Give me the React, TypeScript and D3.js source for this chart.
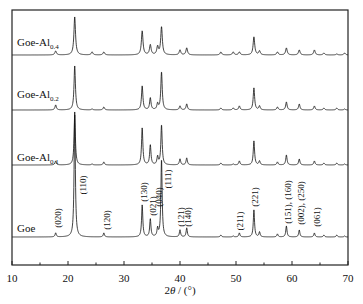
import React from "react";
import { scaleLinear, line, range } from "d3";

// peak positions (2θ, degrees) shared by all four patterns
const peakPos = [17.8, 21.2, 24.3, 26.4, 33.25, 34.7, 36.0, 36.7, 40.0, 41.2, 47.3, 49.5, 50.6, 53.2, 54.2, 57.4, 59.0, 61.3, 64.0, 65.7, 68.0, 69.4];

// peak heights (arbitrary units)
const goe = [4, 125, 0, 4, 32, 18, 8, 78, 7, 9, 2, 1, 4, 27, 5, 3, 11, 7, 4, 2, 2, 1];
const goeAl01 = [4, 50, 1, 3, 37, 20, 8, 40, 6, 7, 2, 1, 4, 24, 4, 3, 10, 6, 4, 2, 2, 1];
const goeAl02 = [5, 44, 1, 3, 24, 12, 6, 38, 4, 6, 2, 2, 4, 22, 4, 3, 8, 6, 4, 2, 2, 1];
const goeAl04 = [4, 38, 3, 3, 24, 10, 8, 28, 5, 7, 3, 3, 3, 18, 4, 3, 7, 5, 5, 2, 1, 2];

const seriesNames = ["Goe", "Goe-Al", "Goe-Al", "Goe-Al"];
const seriesSubs = ["", "0.1", "0.2", "0.4"];
const seriesOffsets = [28, 100, 155, 210];
const seriesData = [goe, goeAl01, goeAl02, goeAl04];
const seriesWidths = [0.13, 0.14, 0.15, 0.17];
const labelLift = [5, 4, 12, 9];

// hkl labels for the Goe pattern
const hklText = ["(020)", "(110)", "(120)", "(130)", "(021)", "(040)", "(111)", "(121)", "(140)", "(211)", "(221)", "(151), (160)", "(002), (250)", "(061)"];
const hklPos = [18.04, 22.59, 26.88, 33.48, 35.0, 36.16, 37.68, 40.0, 41.34, 50.71, 53.39, 59.2, 61.43, 64.29];
const hklLevel = [218, 185, 220, 192, 206, 197, 179, 217, 217, 221, 197, 202, 203, 217];

const xTicks = [10, 20, 30, 40, 50, 60, 70];
const xMinor = range(15, 70, 10);

const W = 363;
const H = 304;
const left = 12;
const right = 348;
const top = 10;
const bottom = 265;

export default function App() {
  const x = scaleLinear().domain([10, 70]).range([left, right]);
  const y = scaleLinear().domain([0, 255]).range([bottom, top]);
  const grid = range(10, 70.001, 0.04);

  const profile = (heights: number[], w: number, off: number) =>
    grid.map((t) => {
      let s = off;
      peakPos.forEach((p, i) => {
        const d = (t - p) / w;
        s += heights[i] / (1 + d * d);
      });
      return [t, s] as [number, number];
    });

  const path = line<[number, number]>()
    .x((d) => x(d[0]))
    .y((d) => y(d[1]));

  const font = "'Liberation Serif', 'Times New Roman', serif";

  return (
    <svg width={W} height={H} style={{ position: "absolute", left: 0, top: 0, background: "#fff" }} fontFamily={font}>
      {seriesData.map((s, i) => (
        <path key={i} d={path(profile(s, seriesWidths[i], seriesOffsets[i])) || ""} fill="none" stroke="#111" strokeWidth={0.8} />
      ))}

      {seriesNames.map((n, i) => (
        <text key={i} x={17} y={y(seriesOffsets[i]) - labelLift[i]} fontSize={11} fill="#111">
          {n}
          {seriesSubs[i] && (
            <tspan fontSize={7} dy={3}>{seriesSubs[i]}</tspan>
          )}
        </text>
      ))}

      {hklText.map((t, i) => (
        <text key={i} transform={`translate(${x(hklPos[i]) + 3.5},${hklLevel[i]}) rotate(-90)`} textAnchor="middle" fontSize={9} fill="#111">
          {t}
        </text>
      ))}

      {/* frame */}
      <rect x={left} y={top} width={right - left} height={bottom - top} fill="none" stroke="#222" strokeWidth={1.2} />

      {xTicks.map((t) => (
        <g key={t}>
          <line x1={x(t)} x2={x(t)} y1={bottom} y2={bottom - 4} stroke="#222" />
          <text x={x(t)} y={282} textAnchor="middle" fontSize={11} fill="#111">{t}</text>
        </g>
      ))}
      {xMinor.map((t) => (
        <line key={t} x1={x(t)} x2={x(t)} y1={bottom} y2={bottom - 2.5} stroke="#222" />
      ))}

      <text x={180} y={294} textAnchor="middle" fontSize={11} fill="#111">
        2<tspan fontStyle="italic">θ</tspan> / (°)
      </text>
    </svg>
  );
}
